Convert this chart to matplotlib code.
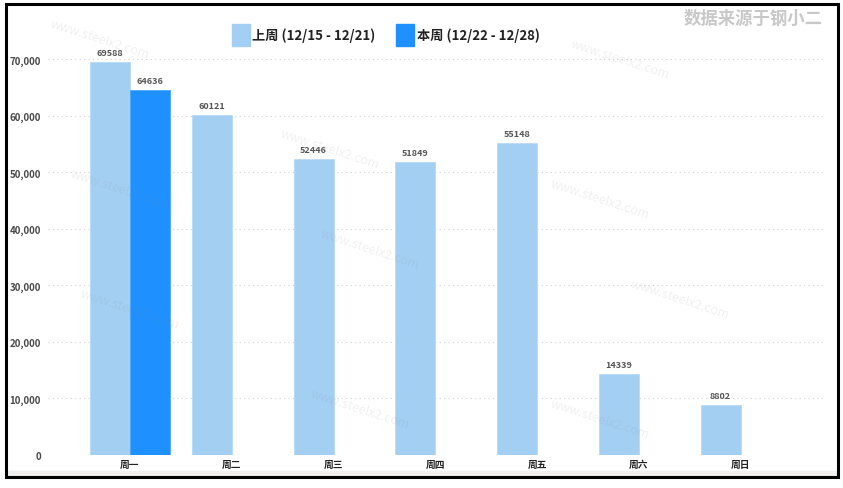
import matplotlib.pyplot as plt
import numpy as np
from matplotlib.patches import Rectangle

plt.rcParams['font.family'] = ['Noto Sans CJK SC', 'DejaVu Sans']

days = ['周一', '周二', '周三', '周四', '周五', '周六', '周日']
last_week = [69588, 60121, 52446, 51849, 55148, 14339, 8802]
this_week = [64636]
last_label = '上周 (12/15 - 12/21)'
this_label = '本周 (12/22 - 12/28)'
yticks = [0, 10000, 20000, 30000, 40000, 50000, 60000, 70000]

c_last = '#a3cff3'
c_this = '#1e90ff'

fig = plt.figure(figsize=(8.43, 4.89), dpi=100)
ax = fig.add_axes([0.057, 0.0675, 0.919, 0.832])

x = np.arange(len(days))
w = 0.393
ax.bar(x - w / 2, last_week, w, color=c_last, edgecolor='#b8dbf7', linewidth=0.6, zorder=2)
ax.bar(x[:len(this_week)] + w / 2, this_week, w, color=c_this, edgecolor='#4aa6ff', linewidth=0.6, zorder=2)

for i, v in enumerate(last_week):
    ax.text(i - w / 2, v + 900, str(v), ha='center', va='bottom', fontsize=6.5,
            fontweight='bold', color='#555555')
for i, v in enumerate(this_week):
    ax.text(i + w / 2, v + 900, str(v), ha='center', va='bottom', fontsize=6.5,
            fontweight='bold', color='#555555')

ax.set_xlim(-0.805, 6.807)
ax.set_ylim(0, 72000)
ax.set_yticks(yticks)
ax.set_yticklabels([f'{t:,}' for t in yticks], fontsize=7, fontweight='heavy', color='#4a4a4a')
ax.set_xticks(x)
ax.set_xticklabels(days, fontsize=7, fontweight='heavy', color='#222222')
ax.tick_params(length=0, pad=5)
ax.tick_params(axis='x', pad=3)
ax.grid(axis='y', linestyle=(0, (1, 3)), color='#d0d0d0', linewidth=0.8, zorder=0)
for s in ax.spines.values():
    s.set_visible(False)

# legend
fig.patches.append(Rectangle((232 / 843, 1 - 47 / 489), 18 / 843, 22 / 489,
                             transform=fig.transFigure, color=c_last, zorder=3))
fig.text(252 / 843, 1 - 36 / 489, last_label, fontsize=9.5, fontweight='bold',
         ha='left', va='center', color='#222222')
fig.patches.append(Rectangle((396 / 843, 1 - 47 / 489), 18 / 843, 22 / 489,
                             transform=fig.transFigure, color=c_this, zorder=3))
fig.text(417 / 843, 1 - 36 / 489, this_label, fontsize=9.5, fontweight='bold',
         ha='left', va='center', color='#222222')

# source note
fig.text(823 / 843, 1 - 19 / 489, '数据来源于钢小二', fontsize=12.5, fontweight='bold',
         ha='right', va='center', color='#c8c8c8')

# faint watermarks
marks = [(100, 40), (330, 150), (620, 60), (120, 190), (600, 200),
         (370, 250), (130, 310), (680, 300), (360, 410), (600, 420)]
for mx, my in marks:
    fig.text(mx / 843, 1 - my / 489, 'www.steelx2.com', fontsize=9, rotation=-18,
             ha='center', va='center', color='#888888', alpha=0.12,
             fontstyle='italic', zorder=0)

# bottom strip and frame
fig.patches.append(Rectangle((6 / 843, 1 - 477 / 489), 831 / 843, 5 / 489,
                             transform=fig.transFigure, color='#f0efed', zorder=1))
fig.patches.append(Rectangle((5.5 / 843, 1 - 478 / 489), 832 / 843, 473 / 489,
                             transform=fig.transFigure, fill=False, edgecolor='black',
                             linewidth=2.2, zorder=4))

fig.savefig('out.png', dpi=100)
